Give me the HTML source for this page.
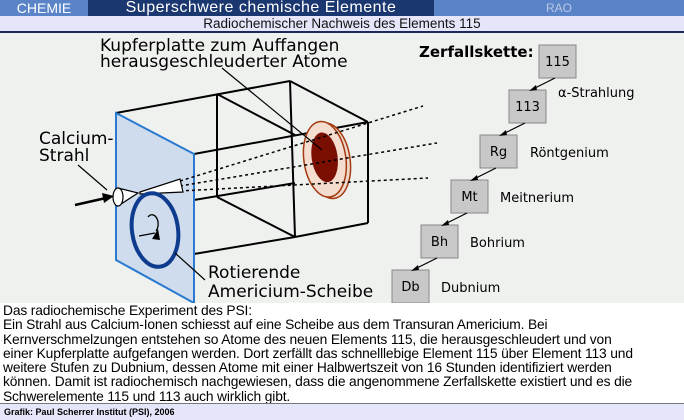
<!DOCTYPE html>
<html><head><meta charset="utf-8"><style>
*{margin:0;padding:0}
body{width:684px;height:420px;overflow:hidden;background:#fff;font-family:"Liberation Sans",sans-serif;position:relative}
.h1{position:absolute;top:0;height:16px;color:#fff;font-size:14px;line-height:16px;text-align:center}
.t{position:absolute;left:3px;top:304px;width:680px;font-size:13.8px;line-height:14.3px;color:#000;white-space:nowrap;letter-spacing:-0.15px}
</style></head><body>
<div class="h1" style="left:0;width:88px;background:#5b84c8;">CHEMIE</div>
<div class="h1" style="left:88px;width:346px;background:#1b3770;font-size:16px;letter-spacing:0.5px">Superschwere chemische Elemente</div>
<div class="h1" style="left:434px;width:250px;background:#5b84c8;color:#b8c8e4;font-size:12px">RAO</div>
<div style="position:absolute;top:16px;left:0;width:684px;height:15px;background:#e6e6fa;font-size:13.5px;line-height:15px;text-align:center;color:#111">Radiochemischer Nachweis des Elements 115</div>
<div style="position:absolute;top:31px;left:0;width:684px;height:2px;background:#1b2a5a"></div>
<svg style="position:absolute;left:0;top:33px" width="684" height="270" viewBox="0 33 684 270" font-family="'DejaVu Sans',sans-serif">
<rect x="0" y="33" width="684" height="270" fill="#eff1ef"/>
<g stroke="#000" stroke-width="2" fill="none">
<line x1="116" y1="113" x2="290" y2="81"/>
<line x1="290" y1="81" x2="368" y2="122"/>
<line x1="368" y1="122" x2="368" y2="223"/>
<line x1="194" y1="154" x2="368" y2="122"/>
<line x1="194" y1="200" x2="295" y2="183"/>
<line x1="217" y1="94" x2="217" y2="197"/>
<line x1="217" y1="94" x2="295" y2="135"/>
<line x1="217" y1="197" x2="295" y2="237"/>
<line x1="290" y1="81" x2="295" y2="237"/>
<line x1="295" y1="237" x2="368" y2="223"/>
<line x1="194" y1="254" x2="295" y2="237"/>
</g>
<polygon points="116,113 194,154 194,303 116,260" fill="#cfdcee" stroke="#2a7ad0" stroke-width="2"/>
<g transform="rotate(-8 327 160)">
<ellipse cx="329" cy="161" rx="21" ry="38" fill="#f0d8cc" stroke="#a33a10" stroke-width="1.5"/>
<ellipse cx="325" cy="159" rx="21" ry="38" fill="#f4dccf" stroke="#a33a10" stroke-width="1.5"/>
<ellipse cx="325" cy="157" rx="13" ry="25" fill="#7a0e00"/>
</g>
<g stroke="#000" stroke-width="1.5" stroke-dasharray="3,3">
<line x1="180" y1="181" x2="423" y2="106"/>
<line x1="180" y1="186" x2="437" y2="143"/>
<line x1="180" y1="191" x2="428" y2="178"/>
</g>
<polygon points="140,192 180,179 183,192 140,194" fill="#fff" stroke="#000" stroke-width="1.2"/>
<ellipse cx="155" cy="230" rx="23" ry="37" fill="none" stroke="#0d3b8e" stroke-width="4" transform="rotate(-8 155 230)"/>
<polygon points="118,188 138,193 118,206" fill="#fff" stroke="#000" stroke-width="1.2"/>
<ellipse cx="118" cy="197" rx="5" ry="9" fill="#fff" stroke="#000" stroke-width="1.2"/>
<line x1="75" y1="205" x2="106" y2="198" stroke="#000" stroke-width="2.5"/>
<polygon points="114,196 102,193 104,203" fill="#000"/>
<path d="M148,217 a6,9 0 1 1 8,14" fill="none" stroke="#000" stroke-width="1.3"/>
<line x1="139" y1="236" x2="155" y2="233" stroke="#000" stroke-width="1.3"/>
<polygon points="152,239 158,229 160,240" fill="#000"/>
<g stroke="#000" stroke-width="1.2">
<line x1="222" y1="68" x2="322" y2="150"/>
<line x1="78" y1="165" x2="107" y2="190"/>
<line x1="175" y1="253" x2="205" y2="280"/>
</g>
<g font-size="17" fill="#000">
<text x="100" y="51">Kupferplatte zum Auffangen</text>
<text x="100" y="67">herausgeschleuderter Atome</text>
<text x="39" y="144">Calcium-</text>
<text x="39" y="161">Strahl</text>
<text x="208" y="278">Rotierende</text>
<text x="208" y="297">Americium-Scheibe</text>
</g>
<text x="419" y="57" font-size="15" font-weight="bold">Zerfallskette:</text>
<g fill="#c8c8c8" stroke="#888" stroke-width="1">
<rect x="539" y="45" width="37" height="33"/>
<rect x="509" y="90" width="37" height="33"/>
<rect x="480" y="135" width="37" height="33"/>
<rect x="451" y="180" width="37" height="33"/>
<rect x="421" y="225" width="37" height="33"/>
<rect x="392" y="270" width="37" height="33"/>
</g>
<g stroke="#000" stroke-width="1.2">
<line x1="555" y1="78" x2="533" y2="89"/><line x1="525" y1="123" x2="503" y2="134"/>
<line x1="496" y1="168" x2="474" y2="179"/><line x1="467" y1="213" x2="445" y2="224"/>
<line x1="437" y1="258" x2="415" y2="269"/>
</g>
<g fill="#000"><polygon points="529,91 536,85 537,90"/><polygon points="499,136 506,130 507,135"/><polygon points="470,181 477,175 478,180"/><polygon points="441,226 448,220 449,225"/><polygon points="411,271 418,265 419,270"/></g>
<g font-size="13" text-anchor="middle">
<text x="557.5" y="66">115</text><text x="527.5" y="111">113</text><text x="498.5" y="156">Rg</text>
<text x="469.5" y="201">Mt</text><text x="439.5" y="246">Bh</text><text x="410.5" y="291">Db</text>
</g>
<g font-size="13">
<text x="558" y="97">α-Strahlung</text><text x="530" y="157">Röntgenium</text><text x="500" y="202">Meitnerium</text>
<text x="470" y="247">Bohrium</text><text x="441" y="292">Dubnium</text>
</g>
</svg>
<div class="t">Das radiochemische Experiment des PSI:<br>Ein Strahl aus Calcium-Ionen schiesst auf eine Scheibe aus dem Transuran Americium. Bei<br>Kernverschmelzungen entstehen so Atome des neuen Elements 115, die herausgeschleudert und von<br>einer Kupferplatte aufgefangen werden. Dort zerfällt das schnelllebige Element 115 über Element 113 und<br>weitere Stufen zu Dubnium, dessen Atome mit einer Halbwertszeit von 16 Stunden identifiziert werden<br>können. Damit ist radiochemisch nachgewiesen, dass die angenommene Zerfallskette existiert und es die<br>Schwerelemente 115 und 113 auch wirklich gibt.</div>
<div style="position:absolute;left:0;top:403px;width:684px;height:17px;background:#e6e6fa;border-top:1px solid #777;font-size:9px;font-weight:bold;line-height:16px;padding-left:4px;box-sizing:border-box">Grafik: Paul Scherrer Institut (PSI), 2006</div>
</body></html>
